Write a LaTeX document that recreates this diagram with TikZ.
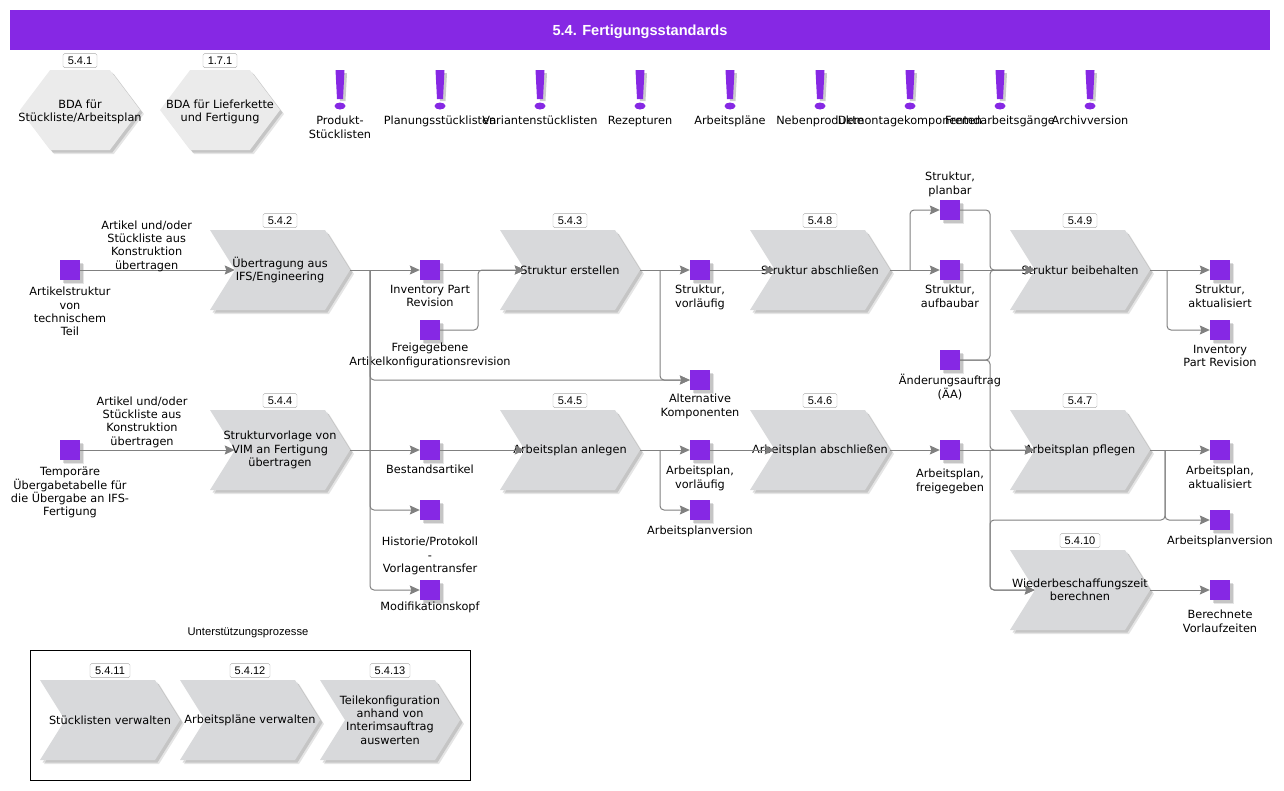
\documentclass[tikz,border=0pt]{standalone}
\usepackage{fontspec}
\setmainfont{DejaVu Sans}
\newfontfamily\arialfont{Liberation Sans}
\definecolor{colorObject}{RGB}{134,40,228}
\definecolor{colorStep}{RGB}{216,217,219}
\definecolor{colorHexa}{RGB}{235,235,235}
\definecolor{colorFlow}{RGB}{128,128,128}
\definecolor{colorBadge}{RGB}{170,170,170}
\usetikzlibrary{arrows.meta, positioning, shapes.symbols, shadows}
\tikzset{
  softshadow/.style={drop shadow={shadow xshift=4pt, shadow yshift=-4pt, fill=black, opacity=0.1}, drop shadow={shadow xshift=2.5pt, shadow yshift=-2.5pt, fill=black, opacity=0.14}},
  objtext/.style={align=center, inner sep=0pt, font=\fontsize{11.3}{13.3}\selectfont},
  objlabel/.style={objtext, yshift=-5pt},
  steptext/.style={objtext, text=black},
  badge/.style={draw=colorBadge, fill=white, rounded corners=1.5pt, inner sep=0pt, minimum height=14pt, minimum width=34pt, yshift=2pt, font=\arialfont\fontsize{11}{12}\selectfont},
  dataobj/.style={fill=colorObject, minimum size=20pt, inner sep=0pt, softshadow},
  procstep/.style={signal, signal from=west, signal to=east, signal pointer angle=116, fill=colorStep, minimum width=140pt, minimum height=80pt, inner sep=0pt, softshadow},
  hexastep/.style={signal, signal from=nowhere, signal to=east and west, signal pointer angle=106, fill=colorHexa, minimum width=120pt, minimum height=80pt, inner sep=0pt, softshadow},
  flow/.style={->, draw=colorFlow, line width=1pt, rounded corners=4pt},
  flowtext/.style={objtext, above, yshift=2pt},
  exclmark/.pic={
    \fill[black, opacity=0.2] (-2,3) -- (7,3) -- (5.5,31) -- (0,31) -- cycle;
    \fill[colorObject] (-4.5,0) -- (4.5,0) -- (3,29) -- (-3,29) -- cycle;
    \fill[colorObject] (0,36) ellipse [x radius=5.5pt, y radius=3.5pt];
  },
}

\begin{document}
\begin{tikzpicture}[x=1pt, y=-1pt, >={Stealth[length=10pt, width=9pt, inset=1.5pt]}, node distance=140pt]
\useasboundingbox (0,0) rectangle (1284,790);
% title
\node[fill=colorObject, minimum width=1260pt, minimum height=40pt, inner sep=0pt, text=white, text height=10pt, text depth=0pt, font=\arialfont\bfseries\fontsize{14.6}{16}\selectfont] (title) at (640,30) {5.4. Fertigungsstandards};
% hexagons
\node[hexastep, label={[badge]above:5.4.1}, label={[steptext, yshift=-2pt]center:BDA für\\Stückliste/Arbeitsplan}] (h541) at (80,110) {};
\node[hexastep, right of=h541, label={[badge]above:1.7.1}, label={[steptext, yshift=-2pt]center:BDA für Lieferkette\\und Fertigung}] (h171) {};
% exclamation marks
\pic (m1) at (340,70) {exclmark};
\pic (m2) at (440,70) {exclmark};
\pic (m3) at (540,70) {exclmark};
\pic (m4) at (640,70) {exclmark};
\pic (m5) at (730,70) {exclmark};
\pic (m6) at (820,70) {exclmark};
\pic (m7) at (910,70) {exclmark};
\pic (m8) at (1000,70) {exclmark};
\pic (m9) at (1090,70) {exclmark};
\node[objtext, anchor=north] (t1) at (340,116) {Produkt-\\Stücklisten};
\node[objtext, anchor=north] (t2) at (440,116) {Planungsstücklisten};
\node[objtext, anchor=north] (t3) at (540,116) {Variantenstücklisten};
\node[objtext, anchor=north] (t4) at (640,116) {Rezepturen};
\node[objtext, anchor=north] (t5) at (730,116) {Arbeitspläne};
\node[objtext, anchor=north] (t6) at (820,116) {Nebenprodukte};
\node[objtext, anchor=north] (t7) at (910,116) {Demontagekomponenten};
\node[objtext, anchor=north] (t8) at (1000,116) {Fremdarbeitsgänge};
\node[objtext, anchor=north] (t9) at (1090,116) {Archivversion};
% upper row
\node[dataobj, label={[objlabel, yshift=-2pt]below:Artikelstruktur\\von\\technischem\\Teil}] (o1) at (70,270) {};
\node[procstep, right of=o1, node distance=210pt, label={[badge]above:5.4.2}, label={[steptext]center:Übertragung aus\\IFS/Engineering}] (p542) {};
\node[dataobj, right of=p542, node distance=150pt, label={[objlabel]below:Inventory Part\\Revision}] (o2) {};
\node[dataobj, below of=o2, node distance=60pt, label={[objlabel, yshift=2pt]below:Freigegebene\\Artikelkonfigurationsrevision}] (o3) {};
\node[procstep, right of=o2, label={[badge]above:5.4.3}, label={[steptext]center:Struktur erstellen}] (p543) {};
\node[dataobj, right of=p543, node distance=130pt, label={[objlabel]below:Struktur,\\vorläufig}] (o4) {};
\node[dataobj, below of=o4, node distance=110pt, label={[objlabel, yshift=1pt]below:Alternative\\Komponenten}] (o5) {};
\node[procstep, right of=o4, node distance=120pt, label={[badge]above:5.4.8}, label={[steptext]center:Struktur abschließen}] (p548) {};
\node[dataobj, right of=p548, node distance=130pt, label={[objlabel]below:Struktur,\\aufbaubar}] (o6) {};
\node[dataobj, above of=o6, node distance=60pt, label={[objlabel, yshift=8pt]above:Struktur,\\planbar}] (o7) {};
\node[dataobj, below of=o6, node distance=90pt, label={[objlabel, yshift=1pt]below:Änderungsauftrag\\(ÄA)}] (o8) {};
\node[procstep, right of=o6, node distance=130pt, label={[badge]above:5.4.9}, label={[steptext]center:Struktur beibehalten}] (p549) {};
\node[dataobj, right of=p549, node distance=140pt, label={[objlabel]below:Struktur,\\aktualisiert}] (o9) {};
\node[dataobj, below of=o9, node distance=60pt, label={[objlabel]below:Inventory\\Part Revision}] (o10) {};
% lower row
\node[dataobj, below of=o1, node distance=180pt, label={[objlabel, yshift=-2pt]below:Temporäre\\Übergabetabelle für\\die Übergabe an IFS-\\Fertigung}] (o11) {};
\node[procstep, below of=p542, node distance=180pt, label={[badge]above:5.4.4}, label={[steptext]center:Strukturvorlage von\\VIM an Fertigung\\übertragen}] (p544) {};
\node[dataobj, below of=o2, node distance=180pt, label={[objlabel]below:Bestandsartikel}] (o12) {};
\node[dataobj, below of=o12, node distance=60pt, label={[objlabel, yshift=-12pt]below:Historie/Protokoll\\-\\Vorlagentransfer}] (o13) {};
\node[dataobj, below of=o13, node distance=80pt, label={[objlabel, yshift=3pt]below:Modifikationskopf}] (o14) {};
\node[procstep, below of=p543, node distance=180pt, label={[badge]above:5.4.5}, label={[steptext]center:Arbeitsplan anlegen}] (p545) {};
\node[dataobj, below of=o4, node distance=180pt, label={[objlabel, yshift=-1pt]below:Arbeitsplan,\\vorläufig}] (o15) {};
\node[dataobj, below of=o15, node distance=60pt, label={[objlabel, yshift=-1pt]below:Arbeitsplanversion}] (o16) {};
\node[procstep, below of=p548, node distance=180pt, label={[badge]above:5.4.6}, label={[steptext]center:Arbeitsplan abschließen}] (p546) {};
\node[dataobj, below of=o6, node distance=180pt, label={[objlabel, yshift=-4pt]below:Arbeitsplan,\\freigegeben}] (o17) {};
\node[procstep, below of=p549, node distance=180pt, label={[badge]above:5.4.7}, label={[steptext]center:Arbeitsplan pflegen}] (p547) {};
\node[dataobj, below of=o9, node distance=180pt, label={[objlabel, yshift=-1pt]below:Arbeitsplan,\\aktualisiert}] (o18) {};
\node[dataobj, below of=o18, node distance=70pt, label={[objlabel, yshift=-1pt]below:Arbeitsplanversion}] (o19) {};
\node[procstep, below of=p547, node distance=140pt, label={[badge, minimum width=40pt]above:5.4.10}, label={[steptext]center:Wiederbeschaffungszeit\\berechnen}] (p5410) {};
\node[dataobj, below of=o19, node distance=70pt, label={[objlabel, yshift=-5pt]below:Berechnete\\Vorlaufzeiten}] (o20) {};
% support processes
\node[font=\arialfont\fontsize{11.2}{13}\selectfont, inner sep=0pt] (supporttitle) at (248,633) {Unterstützungsprozesse};
\node[draw=black, line width=1pt, minimum width=440pt, minimum height=130pt, inner sep=0pt] (supportbox) at (250,715) {};
\node[procstep, label={[badge, minimum width=40pt]above:5.4.11}, label={[steptext]center:Stücklisten verwalten}] (p5411) at (110,720) {};
\node[procstep, right of=p5411, label={[badge, minimum width=40pt]above:5.4.12}, label={[steptext]center:Arbeitspläne verwalten}] (p5412) {};
\node[procstep, right of=p5412, label={[badge, minimum width=40pt]above:5.4.13}, label={[steptext]center:Teilekonfiguration\\anhand von\\Interimsauftrag\\auswerten}] (p5413) {};
% junctions
\coordinate (j1) at (370,270);
\coordinate (j2) at (478,270);
\coordinate (j3) at (660,270);
\coordinate (j4) at (660,450);
\coordinate (j5) at (910,270);
\coordinate (j6) at (990,270);
\coordinate (j7) at (990,450);
\coordinate (j8) at (1165,450);
\coordinate (j9) at (990,520);
\coordinate (j10) at (1167,270);
% connectors
\draw[flow] (o1) -- node[flowtext, pos=0.43, yshift=-4pt] {Artikel und/oder\\Stückliste aus\\Konstruktion\\übertragen} (p542.west);
\draw[flow] (p542.east) -- (o2);
\draw[flow] (j1) |- (o5);
\draw[flow] (j1) |- (o13);
\draw[flow] (j1) |- (o14);
\draw[flow] (o2) -- (p543.west);
\draw[flow] (o3) -| (j2) -- (p543.west);
\draw[flow] (p543.east) -- (o4);
\draw[flow] (j3) |- (o5);
\draw[flow] (o4) -- (p548.west);
\draw[flow] (p548.east) -- (o6);
\draw[flow] (j5) |- (o7);
\draw[flow] (o7) -| (j6) -- (p549.west);
\draw[flow] (o6) -- (p549.west);
\draw[flow] (o8) -| (j6) -- (p549.west);
\draw[flow] (o8) -| (j7) -- (p547.west);
\draw[flow] (p549.east) -- (o9);
\draw[flow] (j10) |- (o10);
\draw[flow] (o11) -- node[flowtext, pos=0.4] {Artikel und/oder\\Stückliste aus\\Konstruktion\\übertragen} (p544.west);
\draw[flow] (p544.east) -- (o12);
\draw[flow] (o12) -- (p545.west);
\draw[flow] (p545.east) -- (o15);
\draw[flow] (j4) |- (o16);
\draw[flow] (o15) -- (p546.west);
\draw[flow] (p546.east) -- (o17);
\draw[flow] (o17) -- (p547.west);
\draw[flow] (j7) |- (p5410.west);
\draw[flow] (p547.east) -- (o18);
\draw[flow] (j8) |- (o19);
\draw[flow] (j8) |- (j9) |- (p5410.west);
\draw[flow] (p5410.east) -- (o20);
\end{tikzpicture}
\end{document}
